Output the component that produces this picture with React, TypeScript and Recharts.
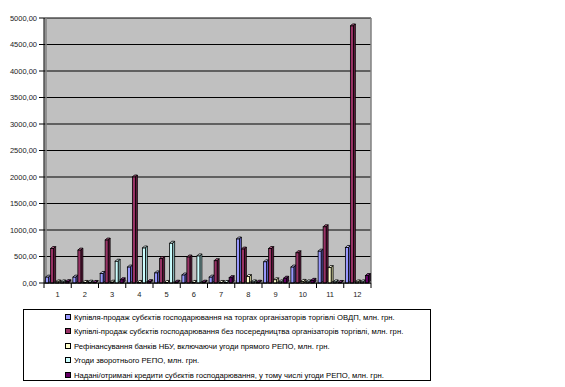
import React from 'react';
import { BarChart, Bar, XAxis, YAxis, CartesianGrid, ReferenceArea } from 'recharts';

const categories = ['1', '2', '3', '4', '5', '6', '7', '8', '9', '10', '11', '12'];
const s1 = [110, 110, 180, 300, 190, 150, 110, 830, 400, 300, 600, 670];
const s2 = [650, 620, 810, 2000, 460, 490, 420, 640, 650, 570, 1060, 4850];
const s3 = [20, 10, 15, 10, 10, 10, 10, 120, 60, 30, 290, 20];
const s4 = [20, 15, 410, 660, 750, 510, 10, 20, 20, 20, 20, 20];
const s5 = [25, 10, 60, 25, 15, 15, 100, 15, 90, 50, 10, 140];
const yTicks = [0, 500, 1000, 1500, 2000, 2500, 3000, 3500, 4000, 4500, 5000];

const seriesNames = [
  'Купівля-продаж субєктів господарювання на торгах організаторів торгівлі ОВДП, млн. грн.',
  'Купівлі-продаж субєктів господарювання без посередництва організаторів торгівлі, млн. грн.',
  'Рефінансування банків НБУ, включаючи угоди прямого РЕПО, млн. грн.',
  'Угоди зворотнього РЕПО, млн. грн.',
  'Надані/отримані кредити субєктів господарювання, у тому числі угоди РЕПО, млн. грн.',
];
const seriesKeys = ['s1', 's2', 's3', 's4', 's5'];
const fills = ['#9999FF', '#993366', '#FFFFCC', '#CCFFFF', '#660066'];
const tops = ['#CCCCFF', '#B85C88', '#FFFFE8', '#E8FFFF', '#883388'];
const sides = ['#6666CC', '#661A40', '#CCCC99', '#99CCCC', '#400040'];

const data = categories.map((c, i) => ({
  name: c,
  s1: s1[i],
  s2: s2[i],
  s3: s3[i],
  s4: s4[i],
  s5: s5[i],
}));

const FONT = 'Arial, "Liberation Sans", sans-serif';

function make3D(idx: number) {
  return (props: any) => {
    const { x, y, width, height } = props;
    if (x == null || y == null) return null;
    const d = 2;
    const w = Math.max(width - d, 1);
    const h = Math.max(height, 0);
    return (
      <g>
        <polygon
          points={`${x},${y} ${x + d},${y - d} ${x + w + d},${y - d} ${x + w},${y}`}
          fill={tops[idx]}
          stroke="#000"
          strokeWidth={0.8}
        />
        <polygon
          points={`${x + w},${y} ${x + w + d},${y - d} ${x + w + d},${y + h - d} ${x + w},${y + h}`}
          fill={sides[idx]}
          stroke="#000"
          strokeWidth={0.8}
        />
        <rect x={x} y={y} width={w} height={h} fill={fills[idx]} stroke="#000" strokeWidth={0.8} />
      </g>
    );
  };
}

const XTick = (props: any) => {
  const { x, y, payload } = props;
  const half = payload && payload.offset ? payload.offset : 13.6;
  return (
    <g>
      <line x1={x - half} y1={y - 8} x2={x - half} y2={y - 3} stroke="#000" />
      {payload.index === categories.length - 1 && (
        <line x1={x + half} y1={y - 8} x2={x + half} y2={y - 3} stroke="#000" />
      )}
      <text x={x} y={y + 6} textAnchor="middle" fontSize={7.5} fontFamily={FONT} fill="#222">
        {payload.value}
      </text>
    </g>
  );
};

export default function App() {
  return (
    <div style={{ position: 'absolute', left: 0, top: 0, width: 565, height: 387, background: '#fff' }}>
      <BarChart
        width={565}
        height={387}
        data={data}
        margin={{ top: 18, right: 194, left: 0, bottom: 84 }}
        barCategoryGap="6%"
        barGap={0}
      >
        <CartesianGrid horizontal vertical={false} stroke="#000" fill="#C0C0C0" />
        <CartesianGrid
          horizontal={false}
          vertical
          stroke="#808080"
          strokeWidth={1.5}
          verticalCoordinatesGenerator={(p: any) => [p.offset.left + 2, p.offset.left + p.offset.width]}
        />
        <ReferenceArea y1={0} y2={50} fill="#8C8C8C" fillOpacity={1} stroke="none" />
        <XAxis
          dataKey="name"
          axisLine={{ stroke: '#000' }}
          tickLine={false}
          tick={<XTick />}
          height={20}
          interval={0}
        />
        <YAxis
          domain={[0, 5000]}
          ticks={yTicks}
          interval={0}
          width={44}
          axisLine={{ stroke: '#000' }}
          tickLine={{ stroke: '#000' }}
          tickSize={5}
          tickMargin={2}
          tick={{ fontSize: 7.5, fontFamily: FONT, fill: '#222' }}
          tickFormatter={(v: number) => v.toFixed(2).replace('.', ',')}
        />
        {seriesKeys.map((k, i) => (
          <Bar key={k} dataKey={k} name={seriesNames[i]} fill={fills[i]} isAnimationActive={false} shape={make3D(i)} />
        ))}
      </BarChart>
      <div
        style={{
          position: 'absolute',
          left: 23,
          top: 309,
          width: 408,
          height: 72,
          border: '1px solid #000',
          fontFamily: FONT,
          fontSize: 7.7,
          color: '#000',
          boxSizing: 'border-box',
        }}
      >
        {seriesNames.map((n, i) => (
          <div key={n} style={{ position: 'absolute', left: 41, top: 1 + i * 14.4, height: 14, lineHeight: '14px', whiteSpace: 'nowrap' }}>
            <span
              style={{
                display: 'inline-block',
                width: 4,
                height: 4,
                background: fills[i],
                border: '1px solid #000',
                marginRight: 3,
                verticalAlign: 'middle',
                position: 'relative',
                top: -1,
              }}
            />
            {n}
          </div>
        ))}
      </div>
    </div>
  );
}
